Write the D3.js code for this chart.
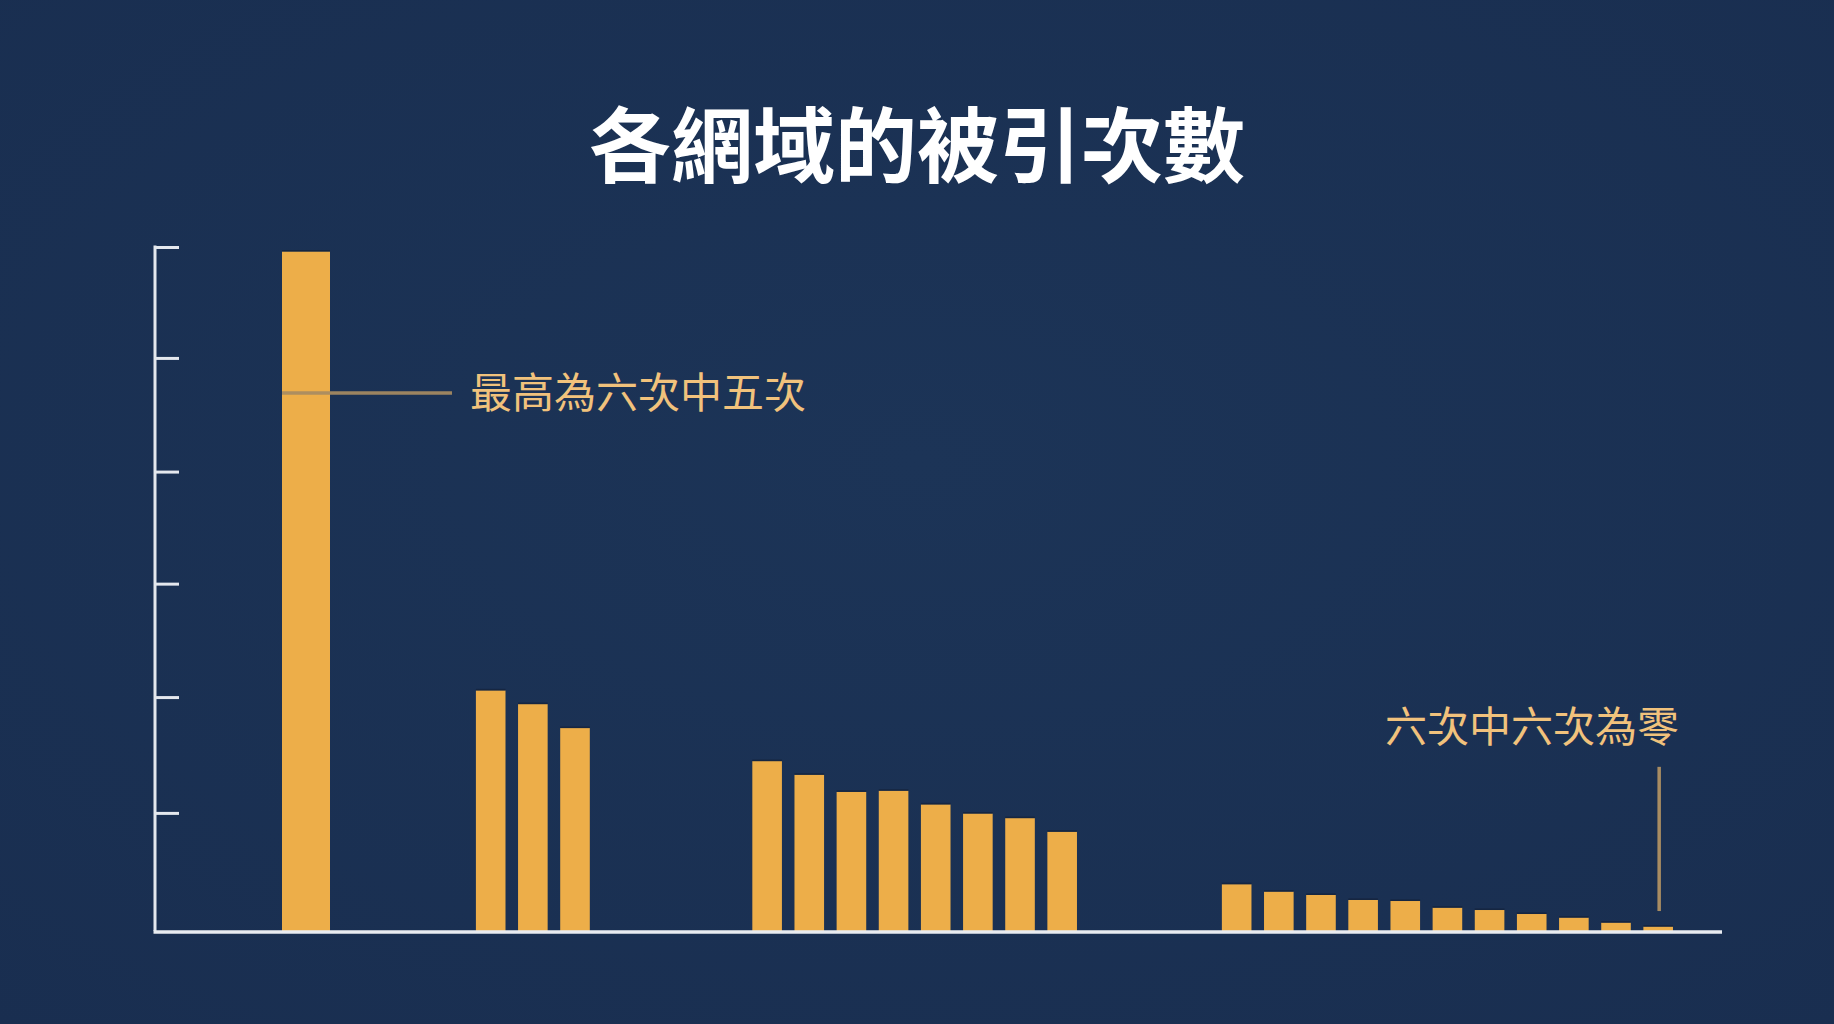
<!DOCTYPE html>
<html>
<head>
<meta charset="utf-8">
<script src="https://cdn.jsdelivr.net/npm/d3@7"></script>
<style>
  html, body { margin: 0; padding: 0; background: #1b3153; }
  svg { display: block; }
</style>
</head>
<body>
<script>
// title + annotations
var title = "各網域的被引次數";
var noteTop = "最高為六次中五次";
var noteZero = "六次中六次為零";

// values (axis unit = one tick)
var groupA = [5.96];
var groupB = [2.11, 1.99, 1.78];
var groupC = [1.49, 1.37, 1.22, 1.23, 1.11, 1.03, 0.99, 0.87];
var groupD = [0.41, 0.345, 0.316, 0.272, 0.263, 0.204, 0.184, 0.149, 0.117, 0.073, 0.038];
// tick marks as they sit in the picture (slightly uneven)
var yTicks = [1.036, 2.052, 3.047, 4.03, 5.027, 6];
var noteTopValue = 4.72;

// layout
var width = 1834, height = 1024;
var axisX = 155, axisRight = 1722;
var step = 42.15;
var groupSlot = [0, 4.382, 10.94, 22.08]; // where each group starts, in bar steps
var groups = [groupA, groupB, groupC, groupD];
var font = "'Noto Sans CJK TC', 'Noto Sans CJK SC', sans-serif";
var noteColor = "#f1c27c", leaderColor = "#a88c62";

var svg = d3.select("body").append("svg")
    .attr("width", width)
    .attr("height", height);

// soft background
var defs = svg.append("defs");
var bg = defs.append("radialGradient").attr("id", "bg")
    .attr("cx", "50%").attr("cy", "45%").attr("r", "75%");
bg.append("stop").attr("offset", "0%").attr("stop-color", "#1c3457");
bg.append("stop").attr("offset", "100%").attr("stop-color", "#192e50");
svg.append("rect").attr("width", width).attr("height", height).attr("fill", "url(#bg)");

var y = d3.scaleLinear().domain([0, 6]).range([931, 247]);
var x = d3.scaleLinear().domain([0, 1]).range([306, 306 + step]);

// flatten groups into bars
var bars = [];
groups.forEach(function(g, gi) {
    g.forEach(function(v, i) {
        bars.push({ slot: groupSlot[gi] + i, value: v, wide: gi === 0 });
    });
});

// bars
svg.selectAll(".bar")
    .data(bars)
    .enter().append("rect")
    .attr("class", "bar")
    .attr("x", function(d) { return x(d.slot) - (d.wide ? 24 : 14.8); })
    .attr("width", function(d) { return d.wide ? 48 : 29.6; })
    .attr("y", function(d) { return y(d.value); })
    .attr("height", function(d) { return y(0) - y(d.value); })
    .attr("fill", "#edae49");

// thin shade on bar tops
svg.selectAll(".cap")
    .data(bars)
    .enter().append("line")
    .attr("x1", function(d) { return x(d.slot) - (d.wide ? 24 : 14.8); })
    .attr("x2", function(d) { return x(d.slot) + (d.wide ? 24 : 14.8); })
    .attr("y1", function(d) { return y(d.value) - 0.8; })
    .attr("y2", function(d) { return y(d.value) - 0.8; })
    .attr("stroke", "#14223a")
    .attr("stroke-width", 1.6)
    .attr("opacity", 0.7);

// y axis with inward ticks, no labels
var yAxis = d3.axisRight(y).tickValues(yTicks).tickSize(24).tickFormat("");
var ga = svg.append("g")
    .attr("transform", "translate(" + axisX + ",0)")
    .call(yAxis);
ga.select(".domain").remove();
ga.selectAll(".tick line").attr("stroke", "#e4e8ee").attr("stroke-width", 3);

svg.append("line")
    .attr("x1", axisX).attr("x2", axisX)
    .attr("y1", y(6) - 1.5).attr("y2", y(0))
    .attr("stroke", "#e4e8ee").attr("stroke-width", 3);

svg.append("line")
    .attr("x1", axisX - 1.5).attr("x2", axisRight)
    .attr("y1", y(0) + 1).attr("y2", y(0) + 1)
    .attr("stroke", "#e8ebf0").attr("stroke-width", 3.5);

// title
svg.append("text")
    .attr("x", width / 2)
    .attr("y", 146)
    .attr("dy", "0.36em")
    .attr("text-anchor", "middle")
    .style("font-family", font)
    .style("font-weight", 700)
    .style("font-size", "82px")
    .attr("fill", "#ffffff")
    .text(title);

// annotation for the highest bar
var first = bars[0];
svg.append("line")
    .attr("x1", x(first.slot) - 24)
    .attr("x2", 452)
    .attr("y1", y(noteTopValue)).attr("y2", y(noteTopValue))
    .attr("stroke", leaderColor)
    .attr("stroke-width", 3.5)
    .attr("opacity", 0.92);

svg.append("text")
    .attr("x", 470)
    .attr("y", y(noteTopValue))
    .attr("dy", "0.36em")
    .style("font-family", font)
    .style("font-weight", 400)
    .style("font-size", "42px")
    .attr("fill", noteColor)
    .text(noteTop);

// annotation for the last (zero) bar
var last = bars[bars.length - 1];
svg.append("line")
    .attr("x1", x(last.slot) + 1).attr("x2", x(last.slot) + 1)
    .attr("y1", y(0.175)).attr("y2", y(1.44))
    .attr("stroke", leaderColor)
    .attr("stroke-width", 3.5);

svg.append("text")
    .attr("x", 1679)
    .attr("y", 727)
    .attr("dy", "0.36em")
    .attr("text-anchor", "end")
    .style("font-family", font)
    .style("font-weight", 400)
    .style("font-size", "42px")
    .attr("fill", noteColor)
    .text(noteZero);
</script>
</body>
</html>
